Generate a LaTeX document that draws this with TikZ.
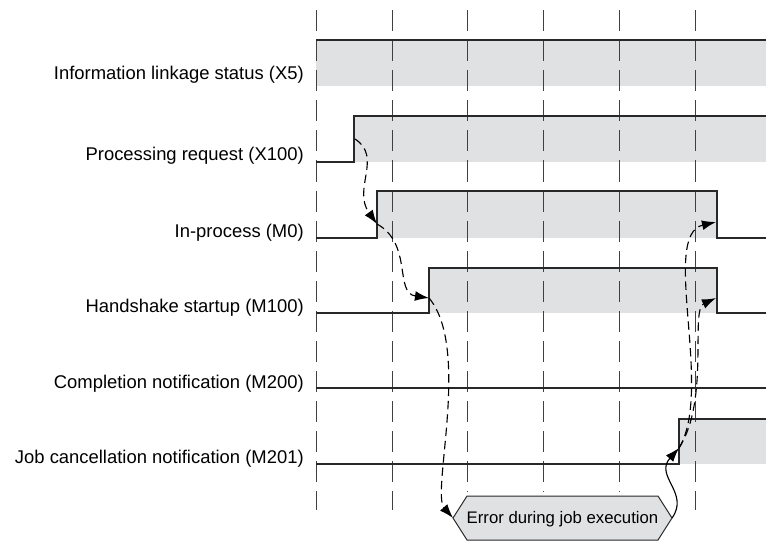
\documentclass[tikz,border=0pt]{standalone}
\usepackage{fontspec}
\setmainfont{Liberation Sans}
\usetikzlibrary{arrows.meta}
\definecolor{hifill}{RGB}{224,225,227}
\definecolor{sigline}{RGB}{40,40,40}
\begin{document}
\begin{tikzpicture}[x=0.025cm,y=-0.025cm,
  sig/.style={draw=sigline,line width=0.9pt},
  grid/.style={draw=black!75,line width=0.6pt,dash pattern=on 15pt off 6.4pt},
  lbl/.style={anchor=east,inner sep=0pt,font=\fontsize{13.1}{15}\selectfont},
  flow/.style={draw=black,line width=0.8pt,dash pattern=on 6pt off 3.5pt,-{Latex[length=10pt,width=7pt]}},
  cause/.style={draw=black,line width=0.8pt,-{Latex[length=10pt,width=7pt]}},
  errbox/.style={draw=sigline,fill=hifill,line width=0.7pt},
  errtext/.style={inner sep=0pt,font=\fontsize{11.9}{14}\selectfont}]
  \useasboundingbox (0,0) rectangle (766,541);

  \fill[hifill] (316,40) rectangle (766,86);
  \fill[hifill] (354,116) rectangle (766,162);
  \fill[hifill] (377,191) rectangle (717,238);
  \fill[hifill] (429,268) rectangle (717,313);
  \fill[hifill] (679,419) rectangle (766,464);

  \foreach \x/\yb in {316/510,392/510,467/492,543/492,619/492,695/510}{
    \draw[grid] (\x,10) -- (\x,\yb);
  }

  \draw[sig] (316,40) -- (766,40);
  \draw[sig] (316,162) -- (354,162) -- (354,116) -- (766,116);
  \draw[sig] (316,238) -- (377,238) -- (377,191) -- (717,191) -- (717,238) -- (766,238);
  \draw[sig] (316,313) -- (429,313) -- (429,268) -- (717,268) -- (717,313) -- (766,313);
  \draw[sig] (316,388) -- (766,388);
  \draw[sig] (316,464) -- (679,464) -- (679,419) -- (766,419);

  \node[lbl] (x5)   at (304,75)  {Information linkage status (X5)};
  \node[lbl] (x100) at (304,156) {Processing request (X100)};
  \node[lbl] (m0)   at (304,233) {In-process (M0)};
  \node[lbl] (m100) at (304,308) {Handshake startup (M100)};
  \node[lbl] (m200) at (304,384) {Completion notification (M200)};
  \node[lbl] (m201) at (304,459) {Job cancellation notification (M201)};

  \coordinate (errw) at (453,518);
  \coordinate (erre) at (672,518);
  \draw[errbox] (errw) -- (467,496) -- (658,496) -- (erre) -- (658,540) -- (467,540) -- cycle;
  \node[errtext] (err) at (562.5,519) {Error during job execution};

  \coordinate (x100r) at (355,139);
  \coordinate (m0r)   at (377,224);
  \coordinate (m100r) at (429,298);
  \coordinate (m201r) at (679,448);
  \coordinate (m0f)   at (716,222);
  \coordinate (m100f) at (716,298);

  \draw[flow] (x100r) .. controls +(28,18) and +(-25,-35) .. (m0r);
  \draw[flow] (m0r) .. controls +(36,20) and +(-35,-5) .. (m100r);
  \draw[flow] (m100r) .. controls +(42,50) and +(-22,-25) .. (errw);
  \draw[cause] (erre) .. controls +(18,-25) and +(-25,28) .. (m201r);
  \draw[flow] (m201r) .. controls (714,390) and (660,235) .. (m0f);
  \draw[flow] (m201r) .. controls (710,400) and (690,310) .. (m100f);
\end{tikzpicture}
\end{document}
